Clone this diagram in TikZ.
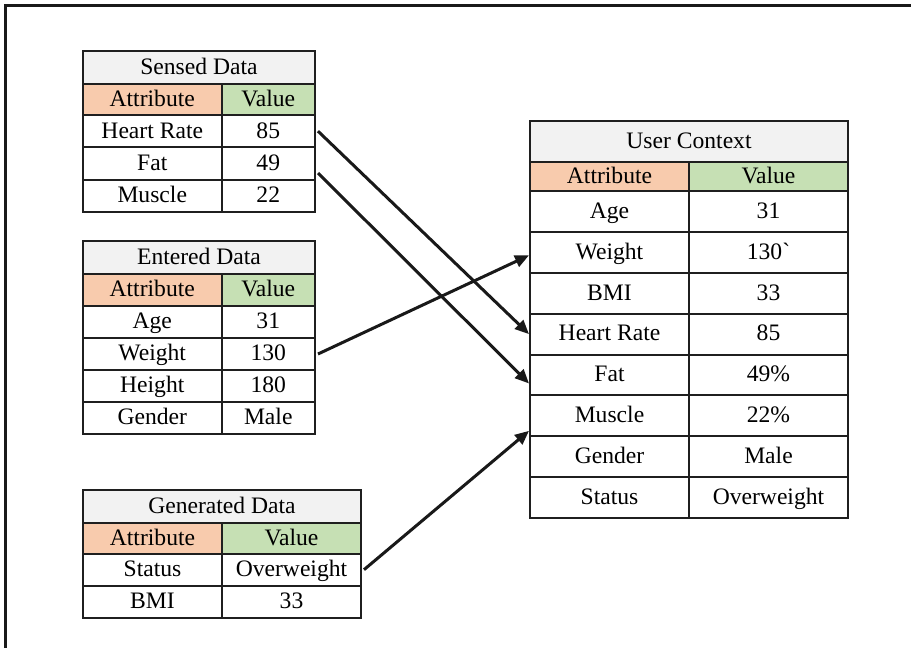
\documentclass[tikz,border=0pt]{standalone}
\usepackage{fontspec}
\setmainfont{Liberation Serif}
\usetikzlibrary{arrows.meta}
\definecolor{titlegray}{HTML}{F2F2F2}
\definecolor{attrpeach}{HTML}{F8CBAD}
\definecolor{valgreen}{HTML}{C6E0B4}
\tikzset{
  cell/.style={rectangle, draw=black!88, line width=1pt, anchor=north west, inner sep=0pt, align=center, text height=1.7ex, text depth=.2ex, font=\fontsize{11.8}{14}\selectfont},
  titlecell/.style={cell, fill=titlegray},
  attrcell/.style={cell, fill=attrpeach},
  valcell/.style={cell, fill=valgreen},
  arr/.style={-{Triangle[length=7pt, width=6pt]}, line width=1.5pt, black!90}
}

\begin{document}
\begin{tikzpicture}[x=0.5pt, y=-0.5pt]
\useasboundingbox (0,0) rectangle (911,648);
\draw[line width=1.25pt, black!90] (5.3,648) -- (5.3,5.3) -- (911,5.3);
% sensed data
\node[titlecell, minimum width=116pt, minimum height=16.5pt] (sd-title) at (82,50) {Sensed Data};
\node[attrcell, minimum width=69.25pt, minimum height=15.5pt] (sd-attr) at (82,83) {Attribute};
\node[valcell, minimum width=46.75pt, minimum height=15.5pt] (sd-val) at (220.5,83) {Value};
\foreach \a/\v/\n [count=\i from 0] in {Heart Rate/85/hr, Fat/49/fat, Muscle/22/mus} {
  \node[cell, minimum width=69.25pt, minimum height=16.17pt] (sd\n-a) at (82,{114+32.33*\i}) {\a};
  \node[cell, minimum width=46.75pt, minimum height=16.17pt] (sd\n-v) at (220.5,{114+32.33*\i}) {\v};
}
% entered data
\node[titlecell, minimum width=116pt, minimum height=16.5pt] (ed-title) at (82,240) {Entered Data};
\node[attrcell, minimum width=69.25pt, minimum height=16pt] (ed-attr) at (82,273) {Attribute};
\node[valcell, minimum width=46.75pt, minimum height=16pt] (ed-val) at (220.5,273) {Value};
\foreach \a/\v/\n [count=\i from 0] in {Age/31/age, Weight/130/wt, Height/180/ht, Gender/Male/gen} {
  \node[cell, minimum width=69.25pt, minimum height=16pt] (ed\n-a) at (82,{305+32*\i}) {\a};
  \node[cell, minimum width=46.75pt, minimum height=16pt] (ed\n-v) at (220.5,{305+32*\i}) {\v};
}
% generated data
\node[titlecell, minimum width=139pt, minimum height=16.35pt] (gd-title) at (82,489) {Generated Data};
\node[attrcell, minimum width=69.5pt, minimum height=15.5pt] (gd-attr) at (82,521.7) {Attribute};
\node[valcell, minimum width=69.5pt, minimum height=15.5pt] (gd-val) at (221,521.7) {Value};
\foreach \a/\v/\n [count=\i from 0] in {Status/Overweight/st, BMI/33/bmi} {
  \node[cell, minimum width=69.5pt, minimum height=16pt] (gd\n-a) at (82,{552.7+32*\i}) {\a};
  \node[cell, minimum width=69.5pt, minimum height=16pt] (gd\n-v) at (221,{552.7+32*\i}) {\v};
}
% user context
\node[titlecell, minimum width=159pt, minimum height=20.35pt] (uc-title) at (529,120) {User Context};
\node[attrcell, minimum width=79.5pt, minimum height=14.65pt] (uc-attr) at (529,160.7) {Attribute};
\node[valcell, minimum width=79.5pt, minimum height=14.65pt] (uc-val) at (688,160.7) {Value};
\foreach \a/\v/\n [count=\i from 0] in {Age/31/age, Weight/130\textasciigrave/wt, BMI/33/bmi, Heart Rate/85/hr, Fat/49\%/fat, Muscle/22\%/mus, Gender/Male/gen, Status/Overweight/st} {
  \node[cell, minimum width=79.5pt, minimum height=20.44pt] (uc\n-a) at (529,{190+40.88*\i}) {\a};
  \node[cell, minimum width=79.5pt, minimum height=20.44pt] (uc\n-v) at (688,{190+40.88*\i}) {\v};
}
% connectors
\draw[arr] ([xshift=1pt]sdhr-v.east) -- (uchr-a.west);
\draw[arr] ([xshift=1pt, yshift=-4.75pt]sdfat-v.east) -- ([yshift=-4.25pt]ucfat-a.west);
\draw[arr] ([xshift=1pt]edwt-v.east) -- ([yshift=-1.5pt]ucwt-a.west);
\draw[arr] ([xshift=1pt]gdst-v.east) -- ([yshift=-7.5pt]ucmus-a.west);
\end{tikzpicture}
\end{document}
